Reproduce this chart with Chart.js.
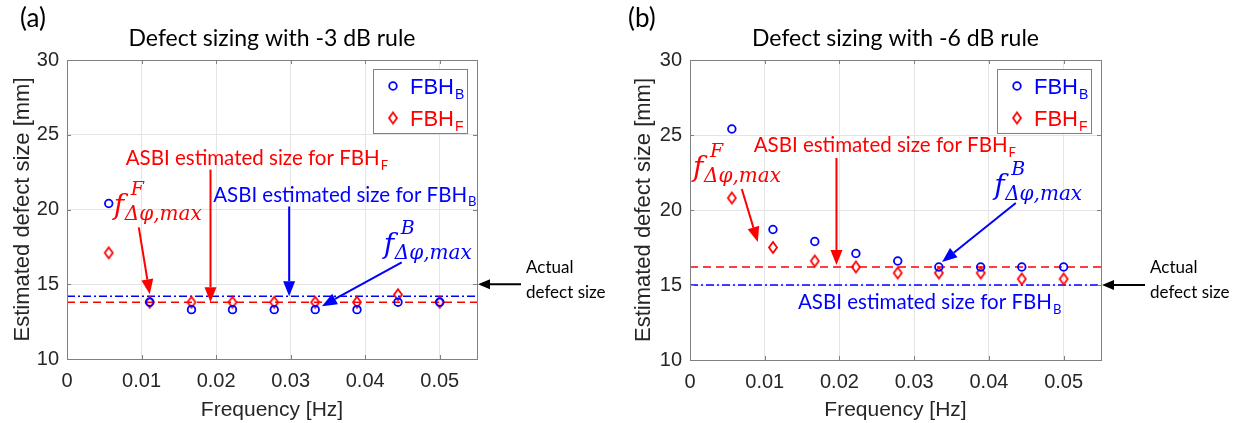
<!DOCTYPE html>
<html><head><meta charset="utf-8">
<script src="https://cdn.jsdelivr.net/npm/chart.js@4.4.1/dist/chart.umd.min.js"></script>
<style>
html,body{margin:0;padding:0;background:#fff;width:1256px;height:423px;overflow:hidden;}
#wrapL{position:absolute;left:0;top:0;width:620px;height:423px;}
#wrapR{position:absolute;left:620px;top:0;width:636px;height:423px;}
</style></head><body>
<div id="wrapL"><canvas id="cL" width="620" height="423"></canvas></div>
<div id="wrapR"><canvas id="cR" width="636" height="423"></canvas></div>
<script>
// ---------- data ----------
const frequency = [0.0056, 0.0111, 0.0167, 0.0222, 0.0278, 0.0333, 0.0389, 0.0444, 0.0500];
const fbhB_3dB = [20.4, 13.8, 13.3, 13.3, 13.3, 13.3, 13.3, 13.8, 13.8];
const fbhF_3dB = [17.1, 13.8, 13.8, 13.8, 13.8, 13.8, 13.8, 14.3, 13.8];
const fbhB_6dB = [25.4, 18.7, 17.9, 17.1, 16.6, 16.2, 16.2, 16.2, 16.2];
const fbhF_6dB = [20.8, 17.5, 16.6, 16.2, 15.8, 15.8, 15.8, 15.4, 15.4];
const asbiB_3dB = 14.2;
const asbiF_3dB = 13.8;
const asbiB_6dB = 15.0;
const asbiF_6dB = 16.2;
const actualSize = 15;
const xRange = [0, 0.055];
const yRange = [10, 30];
const xTicks = [0, 0.01, 0.02, 0.03, 0.04, 0.05];
const xTickLabels = ['0', '0.01', '0.02', '0.03', '0.04', '0.05'];
const yTicks = [10, 15, 20, 25, 30];
const yTickLabels = ['10', '15', '20', '25', '30'];

// ---------- styles ----------
const RED = '#ff0000', BLUE = '#0000ff';
const AXIS = '#808080', GRID = '#e4e4e4', TXT = '#262626';
const SANS = '"Liberation Sans", Arial, sans-serif';
const CAL = 'Lato, "Open Sans", sans-serif';
const MATH = '"DejaVu Serif", serif';

function makeDiamond(color, w, h, lw) {
  const c = document.createElement('canvas');
  c.width = Math.ceil(w + lw * 2 + 2); c.height = Math.ceil(h + lw * 2 + 2);
  const g = c.getContext('2d');
  g.strokeStyle = color; g.lineWidth = lw;
  const cx = c.width / 2, cy = c.height / 2;
  g.beginPath(); g.moveTo(cx, cy - h / 2); g.lineTo(cx + w / 2, cy); g.lineTo(cx, cy + h / 2); g.lineTo(cx - w / 2, cy); g.closePath(); g.stroke();
  return c;
}
const diamondRed = makeDiamond(RED, 8, 11, 1.8);

function arrow(ctx, x1, y1, x2, y2, color, lw, hl, hw) {
  const a = Math.atan2(y2 - y1, x2 - x1);
  const bx = x2 - hl * Math.cos(a), by = y2 - hl * Math.sin(a);
  ctx.save();
  ctx.strokeStyle = color; ctx.fillStyle = color; ctx.lineWidth = lw;
  ctx.beginPath(); ctx.moveTo(x1, y1); ctx.lineTo(bx, by); ctx.stroke();
  ctx.beginPath(); ctx.moveTo(x2, y2);
  ctx.lineTo(bx + hw * Math.sin(a), by - hw * Math.cos(a));
  ctx.lineTo(bx - hw * Math.sin(a), by + hw * Math.cos(a));
  ctx.closePath(); ctx.fill();
  ctx.restore();
}
function subText(ctx, cx, cy, main, sub, size, color, family, align) {
  ctx.save();
  ctx.fillStyle = color; ctx.textBaseline = 'alphabetic';
  ctx.font = size + 'px ' + family;
  const w1 = ctx.measureText(main).width;
  const subSize = Math.round(size * 0.65);
  ctx.font = subSize + 'px ' + family;
  const w2 = ctx.measureText(sub).width;
  let x0 = align === 'left' ? cx : cx - (w1 + w2) / 2;
  const base = cy + size * 0.36;
  ctx.font = size + 'px ' + family; ctx.textAlign = 'left';
  ctx.fillText(main, x0, base);
  ctx.font = subSize + 'px ' + family;
  ctx.fillText(sub, x0 + w1 + 1, base + size * 0.22);
  ctx.restore();
}
function fLabel(ctx, x, base, sup, color) {
  ctx.save();
  ctx.fillStyle = color; ctx.textAlign = 'left'; ctx.textBaseline = 'alphabetic';
  ctx.font = 'italic 28px ' + MATH; ctx.fillText('f', x, base);
  ctx.font = 'italic 19px ' + MATH; ctx.fillText(sup, x + 17, base - 19);
  ctx.font = 'italic 20px ' + MATH; ctx.fillText('\u0394\u03c6,max', x + 11, base + 6);
  ctx.restore();
}

function makePlugin(cfg) {
  return {
    id: 'annot' + cfg.panel,
    afterDraw(chart) {
      const { ctx, chartArea: a, scales: { x, y } } = chart;
      const X = v => x.getPixelForValue(v), Y = v => y.getPixelForValue(v);
      ctx.save();
      // inward ticks
      ctx.strokeStyle = AXIS; ctx.lineWidth = 1;
      ctx.beginPath();
      xTicks.forEach(v => { const px = Math.round(X(v)) + 0.5; ctx.moveTo(px, a.bottom); ctx.lineTo(px, a.bottom - 4); ctx.moveTo(px, a.top); ctx.lineTo(px, a.top + 4); });
      yTicks.forEach(v => { const py = Math.round(Y(v)) + 0.5; ctx.moveTo(a.left, py); ctx.lineTo(a.left + 4, py); ctx.moveTo(a.right, py); ctx.lineTo(a.right - 4, py); });
      ctx.stroke();
      // box
      ctx.strokeRect(Math.round(a.left) + 0.5, Math.round(a.top) + 0.5, Math.round(a.width), Math.round(a.height));

      // legend
      const lx = a.right - 104, ly = a.top + 9;
      ctx.fillStyle = '#fff'; ctx.fillRect(lx, ly, 94, 64);
      ctx.strokeStyle = AXIS; ctx.lineWidth = 1;
      ctx.strokeRect(lx + 0.5, ly + 0.5, 94, 64);
      ctx.strokeStyle = BLUE; ctx.lineWidth = 1.8;
      ctx.beginPath(); ctx.arc(lx + 20, ly + 17, 3.8, 0, Math.PI * 2); ctx.stroke();
      ctx.drawImage(diamondRed, lx + 20 - diamondRed.width / 2, ly + 49 - diamondRed.height / 2);
      subText(ctx, lx + 37, ly + 17, 'FBH', 'B', 22, BLUE, SANS, 'left');
      subText(ctx, lx + 37, ly + 49, 'FBH', 'F', 22, RED, SANS, 'left');

      // panel label & title
      ctx.fillStyle = '#000'; ctx.textBaseline = 'middle';
      ctx.font = '26px ' + CAL; ctx.textAlign = 'left';
      ctx.fillText(cfg.panel, cfg.panelX, 19);
      ctx.font = '23px ' + CAL; ctx.textAlign = 'center';
      ctx.fillText(cfg.title, (a.left + a.right) / 2, 39);

      // annotations
      cfg.texts.forEach(t => subText(ctx, X(t.x), Y(t.y), 'ASBI estimated size for FBH', t.sub, 20.5, t.color, CAL, 'center'));
      cfg.arrows.forEach(r => arrow(ctx, X(r.x1), Y(r.y1), X(r.x2), Y(r.y2), r.color, 2, 15, 6));
      cfg.fLabels.forEach(f => fLabel(ctx, X(f.x), Y(f.y), f.sup, f.color));

      // actual defect size
      const ya = Y(actualSize);
      arrow(ctx, a.right + 44, ya, a.right + 1, ya, '#000', 2, 12, 5);
      ctx.fillStyle = '#000'; ctx.textAlign = 'left'; ctx.textBaseline = 'middle';
      ctx.font = '17px ' + CAL;
      ctx.fillText('Actual', a.right + 49, ya - 17);
      ctx.fillText('defect size', a.right + 49, ya + 8);
      ctx.restore();
    }
  };
}

function makeChart(id, b, f, lineB, lineF, yAxisW, padRight, xAxisH, yTitlePad, cfg) {
  const pts = arr => frequency.map((v, i) => ({ x: v, y: arr[i] }));
  return new Chart(document.getElementById(id), {
    type: 'scatter',
    data: {
      datasets: [
        { label: 'FBH_B', data: pts(b), pointStyle: 'circle', pointRadius: 3.8, pointHoverRadius: 3.8,
          borderColor: BLUE, backgroundColor: 'rgba(0,0,0,0)', borderWidth: 1.8, order: 1 },
        { label: 'FBH_F', data: pts(f), pointStyle: diamondRed, pointRadius: 5, borderColor: RED,
          backgroundColor: 'rgba(0,0,0,0)', order: 2 },
        { type: 'line', label: 'ASBI B', data: [{ x: xRange[0], y: lineB }, { x: xRange[1], y: lineB }],
          borderColor: BLUE, borderDash: [8, 3, 2, 3], borderWidth: 1.5, pointRadius: 0, order: 4 },
        { type: 'line', label: 'ASBI F', data: [{ x: xRange[0], y: lineF }, { x: xRange[1], y: lineF }],
          borderColor: RED, borderDash: [8, 5], borderWidth: 1.5, pointRadius: 0, order: 3 }
      ]
    },
    options: {
      responsive: false, animation: false, devicePixelRatio: 1,
      layout: { padding: { top: 60, right: padRight, left: 0, bottom: 0 } },
      plugins: { legend: { display: false }, tooltip: { enabled: false }, title: { display: false } },
      scales: {
        x: {
          type: 'linear', min: xRange[0], max: xRange[1],
          afterBuildTicks: s => { s.ticks = xTicks.map(v => ({ value: v })); },
          afterFit: s => { s.height = xAxisH; },
          ticks: { callback: v => xTickLabels[xTicks.indexOf(v)], color: TXT, font: { family: SANS, size: 20 }, padding: 10, maxRotation: 0, autoSkip: false },
          grid: { color: GRID, drawTicks: false, lineWidth: 1 },
          border: { display: false },
          title: { display: true, text: 'Frequency [Hz]', color: TXT, font: { family: SANS, size: 21 }, padding: { top: 3, bottom: 0 } }
        },
        y: {
          type: 'linear', min: yRange[0], max: yRange[1],
          afterBuildTicks: s => { s.ticks = yTicks.map(v => ({ value: v })); },
          afterFit: s => { s.width = yAxisW; },
          ticks: { callback: v => yTickLabels[yTicks.indexOf(v)], color: TXT, font: { family: SANS, size: 20 }, padding: 8 },
          grid: { color: GRID, drawTicks: false, lineWidth: 1 },
          border: { display: false },
          title: { display: true, text: 'Estimated defect size [mm]', color: TXT, font: { family: SANS, size: 22 }, padding: { top: yTitlePad, bottom: 0 } }
        }
      }
    },
    plugins: [makePlugin(cfg)]
  });
}

const cfgA = {
  panel: '(a)', panelX: 20, title: 'Defect sizing with -3 dB rule',
  texts: [{ x: 0.0254, y: 23.47, sub: 'F', color: RED }, { x: 0.0372, y: 21.0, sub: 'B', color: BLUE }],
  arrows: [
    { x1: 0.01925, y1: 22.67, x2: 0.01925, y2: 13.8, color: RED },
    { x1: 0.0298, y1: 20.2, x2: 0.0298, y2: 14.2, color: BLUE },
    { x1: 0.00963, y1: 18.8, x2: 0.0111, y2: 14.33, color: RED },
    { x1: 0.0449, y1: 16.47, x2: 0.0342, y2: 13.53, color: BLUE }
  ],
  fLabels: [{ x: 0.00628, y: 19.67, sup: 'F', color: RED }, { x: 0.0425, y: 17.07, sup: 'B', color: BLUE }]
};
const cfgB = {
  panel: '(b)', panelX: 8, title: 'Defect sizing with -6 dB rule',
  texts: [{ x: 0.026, y: 24.33, sub: 'F', color: RED }, { x: 0.032, y: 13.87, sub: 'B', color: BLUE }],
  arrows: [
    { x1: 0.0196, y1: 23.47, x2: 0.0196, y2: 16.33, color: RED },
    { x1: 0.00693, y1: 21.4, x2: 0.00907, y2: 17.87, color: RED },
    { x1: 0.0436, y1: 20.47, x2: 0.03373, y2: 16.53, color: BLUE }
  ],
  fLabels: [{ x: 0.0004, y: 22.27, sup: 'F', color: RED }, { x: 0.0407, y: 21.07, sup: 'B', color: BLUE }]
};

makeChart('cL', fbhB_3dB, fbhF_3dB, asbiB_3dB, asbiF_3dB, 67, 143, 64, 10, cfgA);
makeChart('cR', fbhB_6dB, fbhF_6dB, asbiB_6dB, asbiF_6dB, 70, 155, 63, 11, cfgB);
</script>
</body></html>
